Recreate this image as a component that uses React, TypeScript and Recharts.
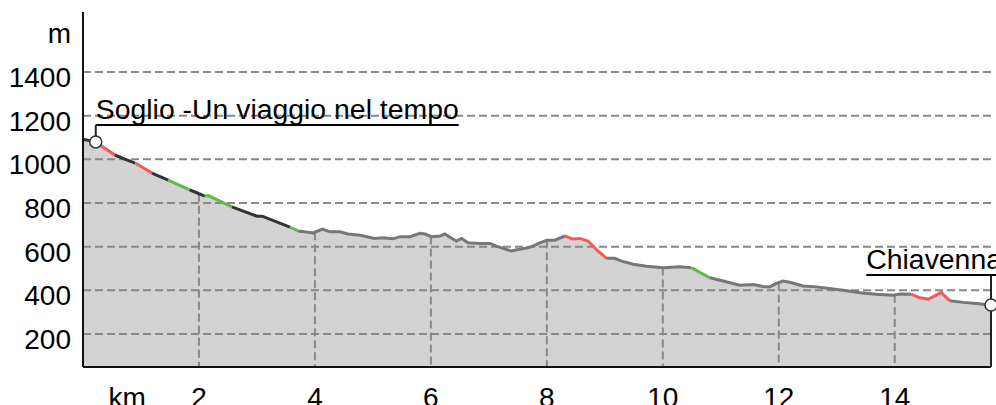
import React from "react";
import {
  ComposedChart,
  Area,
  Line,
  XAxis,
  YAxis,
  ReferenceLine,
  ReferenceDot,
} from "recharts";

// Profile samples (distance in km, elevation in m)
const distKm = [
  0.0, 0.22, 0.35, 0.55, 0.72, 0.9, 1.19, 1.47, 1.84, 1.97, 2.1, 2.16, 2.57, 3.0, 3.09, 3.57, 3.71,
  3.97, 4.13, 4.26, 4.43, 4.57, 4.78, 5.03, 5.17, 5.34, 5.47, 5.64, 5.81, 5.9, 6.01, 6.16, 6.24,
  6.33, 6.44, 6.53, 6.64, 6.84, 7.02, 7.13, 7.25, 7.39, 7.53, 7.71, 7.88, 8.0, 8.14, 8.31, 8.45,
  8.57, 8.71, 8.86, 9.03, 9.17, 9.29, 9.49, 9.72, 10.01, 10.29, 10.49, 10.81, 11.04, 11.33, 11.56,
  11.73, 11.84, 11.96, 12.07, 12.19, 12.42, 12.65, 13.11, 13.4, 13.68, 13.97, 14.09, 14.29, 14.43,
  14.58, 14.69, 14.8, 14.95, 15.18, 15.41, 15.66,
];
const elevM = [
  1092, 1080, 1056, 1020, 1001, 983, 937, 905, 860, 846, 832, 834, 782, 740, 740, 690, 672,
  663, 681, 668, 668, 658, 652, 638, 641, 636, 646, 646, 661, 658, 646, 649, 658,
  643, 626, 638, 618, 615, 615, 603, 592, 580, 588, 597, 618, 630, 630, 649, 635,
  638, 626, 585, 547, 547, 534, 520, 510, 504, 508, 504, 458, 443, 424, 427,
  418, 416, 432, 443, 437, 420, 416, 401, 389, 382, 378, 383, 382, 366,
  360, 375, 391, 352, 345, 340, 333,
];
// slope class of consecutive runs of segments, and how many segments each run covers
const runGrade = [
  "down", "steep", "down", "steep", "down", "easy", "down", "easy", "down", "easy",
  "flat", "steep", "flat", "easy", "flat", "steep", "flat",
];
const runSegments = [1, 2, 2, 1, 1, 1, 2, 2, 3, 1, 31, 5, 7, 1, 16, 5, 3];

const gradeColors: Record<string, string> = {
  steep: "#f85858",
  down: "#333333",
  easy: "#62b94a",
  flat: "#777777",
};

const yTickValues = [200, 400, 600, 800, 1000, 1200, 1400, 1600];
const yTickLabels = ["200", "400", "600", "800", "1000", "1200", "1400", "m"];
const yGridValues = [200, 400, 600, 800, 1000, 1200, 1400];
const xTickValues = [0.76, 2, 4, 6, 8, 10, 12, 14];
const xTickLabels = ["km", "2", "4", "6", "8", "10", "12", "14"];
const xGridValues = [2, 4, 6, 8, 10, 12, 14];

const waypointKm = [0.22, 15.66];
const waypointNames = ["Soglio -Un viaggio nel tempo", "Chiavenna"];
const waypointLabelElev = [1157, 470];
const waypointAnchor = ["start", "end"];

const Y_MIN = 49;
const Y_MAX = 1675;
const FONT = "'Liberation Sans', Arial, sans-serif";
const GRID = "#888888";
const LABEL_SIZE = 28.4;

// point index ranges of each coloured run, one Line per run
const runs: { from: number; to: number; grade: string }[] = [];
let cursor = 0;
runGrade.forEach((g, k) => {
  runs.push({ from: cursor, to: cursor + runSegments[k], grade: g });
  cursor += runSegments[k];
});

const chartData = distKm.map((km, idx) => {
  const row: Record<string, number | null> = { km, elev: elevM[idx] };
  runs.forEach((r, k) => {
    row[`r${k}`] = idx >= r.from && idx <= r.to ? elevM[idx] : null;
  });
  return row;
});

const elevAt = (km: number) => {
  for (let i = 1; i < distKm.length; i++) {
    if (km <= distKm[i]) {
      const t = (km - distKm[i - 1]) / (distKm[i] - distKm[i - 1]);
      return elevM[i - 1] + t * (elevM[i] - elevM[i - 1]);
    }
  }
  return elevM[elevM.length - 1];
};

const measure = (text: string) => {
  const ctx = document.createElement("canvas").getContext("2d");
  if (!ctx) return text.length * 14;
  ctx.font = `${LABEL_SIZE}px ${FONT}`;
  return ctx.measureText(text).width;
};

const YTick = ({ x, y, payload }: any) => {
  const i = yTickValues.indexOf(payload.value);
  return (
    <text x={x} y={y} dy={15} textAnchor="end" fontSize={28} fontFamily={FONT} fill="#000">
      {yTickLabels[i]}
    </text>
  );
};

const XTick = ({ x, y, payload }: any) => {
  const i = xTickValues.indexOf(payload.value);
  return (
    <text x={x} y={y} dy={32} textAnchor="middle" fontSize={28} fontFamily={FONT} fill="#000">
      {xTickLabels[i]}
    </text>
  );
};

const WaypointLabel = ({ cx, cy, name, anchor }: any) => {
  const w = measure(name);
  const x0 = anchor === "end" ? cx + 11 - w : cx;
  return (
    <g>
      <text x={x0} y={cy - 6} fontSize={LABEL_SIZE} fontFamily={FONT} fill="#000">
        {name}
      </text>
      <line x1={x0} x2={x0 + w} y1={cy} y2={cy} stroke="#000" strokeWidth={2} />
    </g>
  );
};

export default function App() {
  const lastKm = distKm[distKm.length - 1];
  const lastElev = elevM[elevM.length - 1];
  return (
    <div
      style={{
        position: "absolute",
        left: 0,
        top: 0,
        width: 996,
        height: 405,
        overflow: "hidden",
        background: "#fff",
      }}
    >
      <ComposedChart width={996} height={405} data={chartData} margin={{ top: 12, right: 5, bottom: 0, left: 0 }}>
        <XAxis
          type="number"
          dataKey="km"
          domain={[0, lastKm]}
          ticks={xTickValues}
          interval={0}
          height={38}
          tickLine={false}
          axisLine={{ stroke: "#111", strokeWidth: 2 }}
          tick={<XTick />}
        />
        <YAxis
          type="number"
          domain={[Y_MIN, Y_MAX]}
          ticks={yTickValues}
          interval={0}
          width={83}
          tickLine={false}
          tickMargin={6}
          allowDataOverflow
          axisLine={{ stroke: "#111", strokeWidth: 2 }}
          tick={<YTick />}
        />
        <Area
          type="linear"
          dataKey="elev"
          stroke="none"
          fill="#d3d3d3"
          fillOpacity={1}
          isAnimationActive={false}
        />
        {yGridValues.map((v) => (
          <ReferenceLine key={`h${v}`} y={v} stroke={GRID} strokeWidth={2} strokeDasharray="8 4" zIndex={150} />
        ))}
        {xGridValues.map((k) => (
          <ReferenceLine
            key={`v${k}`}
            segment={[
              { x: k, y: elevAt(k) },
              { x: k, y: Y_MIN },
            ]}
            stroke={GRID}
            strokeWidth={2}
            strokeDasharray="8 4"
            zIndex={150}
          />
        ))}
        <ReferenceLine
          segment={[
            { x: lastKm, y: lastElev },
            { x: lastKm, y: Y_MIN },
          ]}
          stroke="#222"
          strokeWidth={2}
          zIndex={150}
        />
        {runs.map((r, k) => (
          <Line
            key={`r${k}`}
            type="linear"
            dataKey={`r${k}`}
            stroke={gradeColors[r.grade]}
            strokeWidth={3}
            dot={false}
            activeDot={false}
            connectNulls={false}
            isAnimationActive={false}
          />
        ))}
        {waypointKm.map((km, i) => (
          <ReferenceLine
            key={`pin${i}`}
            segment={[
              { x: km, y: elevAt(km) },
              { x: km, y: waypointLabelElev[i] },
            ]}
            stroke="#222"
            strokeWidth={2}
            zIndex={450}
          />
        ))}
        {waypointKm.map((km, i) => (
          <ReferenceDot
            key={`dot${i}`}
            x={km}
            y={elevAt(km)}
            r={6}
            fill="#fff"
            stroke="#333"
            strokeWidth={1.5}
            zIndex={600}
          />
        ))}
        {waypointKm.map((km, i) => (
          <ReferenceDot
            key={`lbl${i}`}
            x={km}
            y={waypointLabelElev[i]}
            zIndex={700}
            shape={(p: any) => (
              <WaypointLabel cx={p.cx} cy={p.cy} name={waypointNames[i]} anchor={waypointAnchor[i]} />
            )}
          />
        ))}
      </ComposedChart>
    </div>
  );
}
